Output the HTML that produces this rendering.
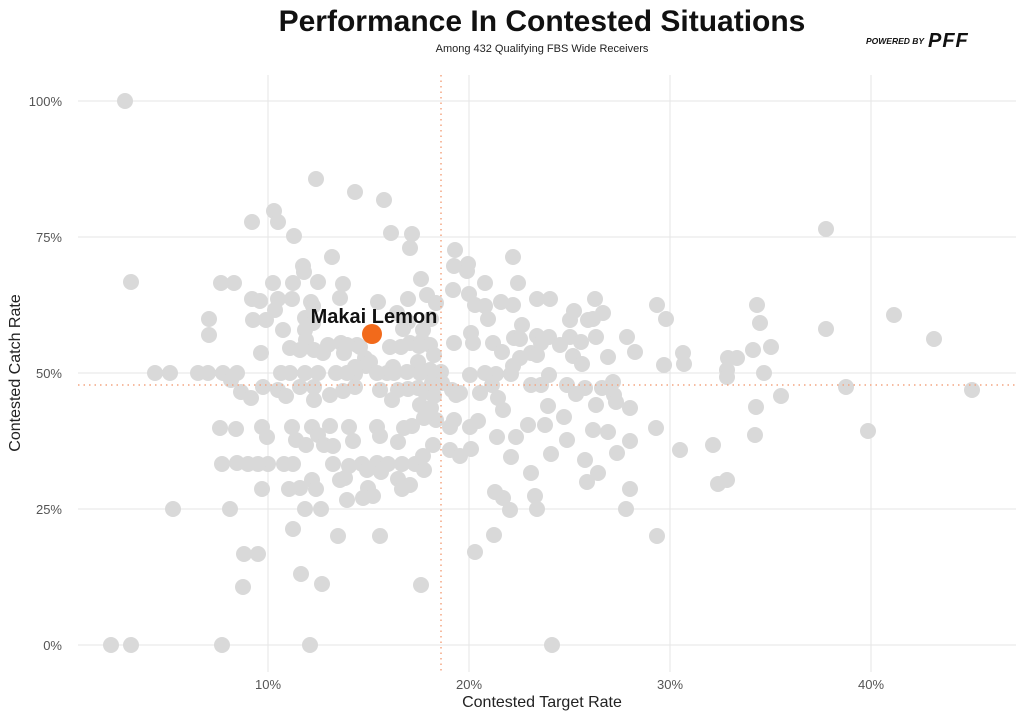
<!DOCTYPE html>
<html><head><meta charset="utf-8"><style>
body{margin:0;background:#fff;width:1024px;height:717px;overflow:hidden;font-family:"Liberation Sans",sans-serif}
</style></head><body>
<svg width="1024" height="717" xmlns="http://www.w3.org/2000/svg" font-family="Liberation Sans, sans-serif">
<rect width="1024" height="717" fill="#fff"/>
<text x="542" y="31" text-anchor="middle" font-size="30" font-weight="bold" fill="#111">Performance In Contested Situations</text>
<text x="542" y="52" text-anchor="middle" font-size="11" fill="#222">Among 432 Qualifying FBS Wide Receivers</text>
<text x="866" y="44" font-size="8.5" font-weight="bold" font-style="italic" fill="#111">POWERED BY</text>
<text x="928" y="47" font-size="20" font-weight="900" font-style="italic" fill="#111" letter-spacing="1">PFF</text>
<g stroke="#e6e6e6" stroke-width="1">
<line x1="268" y1="75" x2="268" y2="672"/><line x1="469" y1="75" x2="469" y2="672"/><line x1="670" y1="75" x2="670" y2="672"/><line x1="871" y1="75" x2="871" y2="672"/>
<line x1="78" y1="101" x2="1016" y2="101"/><line x1="78" y1="237" x2="1016" y2="237"/><line x1="78" y1="373" x2="1016" y2="373"/><line x1="78" y1="509" x2="1016" y2="509"/><line x1="78" y1="645" x2="1016" y2="645"/>
</g>
<g font-size="13" fill="#555" text-anchor="end">
<text x="62" y="106">100%</text><text x="62" y="242">75%</text><text x="62" y="378">50%</text><text x="62" y="514">25%</text><text x="62" y="650">0%</text>
</g>
<g font-size="13" fill="#555" text-anchor="middle">
<text x="268" y="689">10%</text><text x="469" y="689">20%</text><text x="670" y="689">30%</text><text x="871" y="689">40%</text>
</g>
<text x="542" y="707" text-anchor="middle" font-size="16" fill="#222">Contested Target Rate</text>
<text transform="translate(20,373) rotate(-90)" text-anchor="middle" font-size="16" fill="#222">Contested Catch Rate</text>
<g fill="#d9d9d9">
<circle cx="125" cy="101" r="8"/><circle cx="131" cy="282" r="8"/><circle cx="111" cy="645" r="8"/><circle cx="131" cy="645" r="8"/><circle cx="222" cy="645" r="8"/><circle cx="310" cy="645" r="8"/><circle cx="552" cy="645" r="8"/><circle cx="173" cy="509" r="8"/><circle cx="155" cy="373" r="8"/><circle cx="170" cy="373" r="8"/><circle cx="198" cy="373" r="8"/><circle cx="209" cy="319" r="8"/><circle cx="209" cy="335" r="8"/><circle cx="220" cy="428" r="8"/><circle cx="222" cy="464" r="8"/><circle cx="237" cy="463" r="8"/><circle cx="244" cy="554" r="8"/><circle cx="243" cy="587" r="8"/><circle cx="230" cy="509" r="8"/><circle cx="252" cy="222" r="8"/><circle cx="274" cy="211" r="8"/><circle cx="278" cy="222" r="8"/><circle cx="261" cy="353" r="8"/><circle cx="248" cy="464" r="8"/><circle cx="268" cy="464" r="8"/><circle cx="262" cy="489" r="8"/><circle cx="267" cy="437" r="8"/><circle cx="316" cy="179" r="8"/><circle cx="355" cy="192" r="8"/><circle cx="384" cy="200" r="8"/><circle cx="332" cy="257" r="8"/><circle cx="412" cy="234" r="8"/>
<circle cx="294" cy="236" r="8"/><circle cx="391" cy="233" r="8"/><circle cx="410" cy="248" r="8"/><circle cx="303" cy="266" r="8"/><circle cx="304" cy="272" r="8"/><circle cx="318" cy="282" r="8"/><circle cx="234" cy="283" r="8"/><circle cx="221" cy="283" r="8"/><circle cx="273" cy="283" r="8"/><circle cx="293" cy="283" r="8"/><circle cx="343" cy="284" r="8"/><circle cx="340" cy="298" r="8"/><circle cx="252" cy="299" r="8"/><circle cx="260" cy="301" r="8"/><circle cx="278" cy="299" r="8"/><circle cx="292" cy="299" r="8"/><circle cx="311" cy="302" r="8"/><circle cx="275" cy="310" r="8"/><circle cx="313" cy="306" r="8"/><circle cx="253" cy="320" r="8"/><circle cx="266" cy="320" r="8"/><circle cx="283" cy="330" r="8"/><circle cx="305" cy="318" r="8"/><circle cx="313" cy="323" r="8"/><circle cx="305" cy="330" r="8"/><circle cx="306" cy="340" r="8"/><circle cx="290" cy="348" r="8"/><circle cx="300" cy="350" r="8"/><circle cx="314" cy="350" r="8"/><circle cx="328" cy="345" r="8"/><circle cx="341" cy="343" r="8"/><circle cx="347" cy="345" r="8"/><circle cx="323" cy="353" r="8"/><circle cx="344" cy="353" r="8"/><circle cx="357" cy="345" r="8"/><circle cx="408" cy="299" r="8"/><circle cx="421" cy="279" r="8"/><circle cx="427" cy="295" r="8"/><circle cx="436" cy="303" r="8"/><circle cx="378" cy="302" r="8"/><circle cx="397" cy="313" r="8"/><circle cx="408" cy="322" r="8"/><circle cx="403" cy="329" r="8"/><circle cx="423" cy="330" r="8"/><circle cx="431" cy="319" r="8"/><circle cx="422" cy="341" r="8"/><circle cx="390" cy="347" r="8"/><circle cx="401" cy="347" r="8"/><circle cx="410" cy="343" r="8"/><circle cx="419" cy="346" r="8"/><circle cx="430" cy="345" r="8"/><circle cx="434" cy="355" r="8"/><circle cx="360" cy="347" r="8"/><circle cx="365" cy="358" r="8"/><circle cx="366" cy="366" r="8"/><circle cx="355" cy="367" r="8"/><circle cx="355" cy="374" r="8"/><circle cx="370" cy="362" r="8"/><circle cx="387" cy="373" r="8"/><circle cx="393" cy="367" r="8"/><circle cx="407" cy="372" r="8"/><circle cx="418" cy="362" r="8"/><circle cx="430" cy="370" r="8"/><circle cx="441" cy="372" r="8"/><circle cx="208" cy="373" r="8"/><circle cx="223" cy="373" r="8"/><circle cx="237" cy="373" r="8"/><circle cx="281" cy="373" r="8"/><circle cx="290" cy="373" r="8"/><circle cx="305" cy="373" r="8"/><circle cx="318" cy="373" r="8"/><circle cx="336" cy="373" r="8"/><circle cx="347" cy="373" r="8"/><circle cx="377" cy="373" r="8"/><circle cx="394" cy="373" r="8"/><circle cx="420" cy="373" r="8"/><circle cx="432" cy="383" r="8"/><circle cx="442" cy="383" r="8"/><circle cx="452" cy="390" r="8"/><circle cx="231" cy="380" r="8"/><circle cx="241" cy="392" r="8"/><circle cx="251" cy="398" r="8"/><circle cx="263" cy="387" r="8"/><circle cx="278" cy="390" r="8"/><circle cx="286" cy="396" r="8"/><circle cx="300" cy="387" r="8"/><circle cx="314" cy="387" r="8"/><circle cx="314" cy="400" r="8"/><circle cx="330" cy="395" r="8"/><circle cx="343" cy="391" r="8"/><circle cx="355" cy="387" r="8"/><circle cx="380" cy="390" r="8"/><circle cx="392" cy="400" r="8"/><circle cx="398" cy="390" r="8"/><circle cx="408" cy="389" r="8"/><circle cx="418" cy="388" r="8"/><circle cx="425" cy="392" r="8"/><circle cx="434" cy="396" r="8"/><circle cx="420" cy="405" r="8"/><circle cx="431" cy="408" r="8"/><circle cx="436" cy="420" r="8"/><circle cx="262" cy="427" r="8"/><circle cx="292" cy="427" r="8"/><circle cx="312" cy="427" r="8"/><circle cx="330" cy="426" r="8"/><circle cx="349" cy="427" r="8"/><circle cx="377" cy="427" r="8"/><circle cx="412" cy="426" r="8"/><circle cx="424" cy="418" r="8"/><circle cx="450" cy="427" r="8"/><circle cx="236" cy="429" r="8"/><circle cx="296" cy="440" r="8"/><circle cx="306" cy="445" r="8"/><circle cx="318" cy="435" r="8"/><circle cx="324" cy="445" r="8"/><circle cx="333" cy="446" r="8"/><circle cx="353" cy="441" r="8"/><circle cx="380" cy="436" r="8"/><circle cx="398" cy="442" r="8"/><circle cx="404" cy="428" r="8"/><circle cx="423" cy="456" r="8"/><circle cx="433" cy="445" r="8"/><circle cx="258" cy="464" r="8"/><circle cx="284" cy="464" r="8"/><circle cx="293" cy="464" r="8"/><circle cx="333" cy="464" r="8"/><circle cx="349" cy="466" r="8"/><circle cx="362" cy="464" r="8"/><circle cx="377" cy="463" r="8"/><circle cx="388" cy="464" r="8"/><circle cx="402" cy="464" r="8"/><circle cx="415" cy="464" r="8"/><circle cx="424" cy="470" r="8"/><circle cx="345" cy="478" r="8"/><circle cx="367" cy="470" r="8"/><circle cx="398" cy="479" r="8"/><circle cx="402" cy="489" r="8"/><circle cx="410" cy="485" r="8"/><circle cx="381" cy="472" r="8"/><circle cx="312" cy="480" r="8"/><circle cx="300" cy="488" r="8"/><circle cx="289" cy="489" r="8"/><circle cx="316" cy="489" r="8"/><circle cx="340" cy="480" r="8"/><circle cx="368" cy="488" r="8"/><circle cx="373" cy="496" r="8"/><circle cx="305" cy="509" r="8"/><circle cx="321" cy="509" r="8"/><circle cx="347" cy="500" r="8"/><circle cx="363" cy="498" r="8"/><circle cx="338" cy="536" r="8"/><circle cx="380" cy="536" r="8"/><circle cx="322" cy="584" r="8"/><circle cx="301" cy="574" r="8"/><circle cx="293" cy="529" r="8"/><circle cx="258" cy="554" r="8"/><circle cx="421" cy="585" r="8"/><circle cx="475" cy="552" r="8"/>
<circle cx="455" cy="250" r="8"/><circle cx="454" cy="266" r="8"/><circle cx="468" cy="264" r="8"/><circle cx="467" cy="271" r="8"/><circle cx="513" cy="257" r="8"/><circle cx="485" cy="283" r="8"/><circle cx="518" cy="283" r="8"/><circle cx="453" cy="290" r="8"/><circle cx="469" cy="294" r="8"/><circle cx="475" cy="305" r="8"/><circle cx="501" cy="302" r="8"/><circle cx="485" cy="306" r="8"/><circle cx="513" cy="305" r="8"/><circle cx="537" cy="299" r="8"/><circle cx="550" cy="299" r="8"/><circle cx="595" cy="299" r="8"/><circle cx="574" cy="311" r="8"/><circle cx="593" cy="319" r="8"/><circle cx="570" cy="320" r="8"/><circle cx="588" cy="320" r="8"/><circle cx="603" cy="313" r="8"/><circle cx="657" cy="305" r="8"/><circle cx="666" cy="319" r="8"/><circle cx="488" cy="319" r="8"/><circle cx="522" cy="325" r="8"/><circle cx="537" cy="336" r="8"/><circle cx="549" cy="337" r="8"/><circle cx="560" cy="345" r="8"/><circle cx="471" cy="333" r="8"/><circle cx="473" cy="343" r="8"/><circle cx="454" cy="343" r="8"/><circle cx="493" cy="343" r="8"/><circle cx="514" cy="338" r="8"/><circle cx="502" cy="352" r="8"/><circle cx="520" cy="339" r="8"/><circle cx="531" cy="353" r="8"/><circle cx="541" cy="343" r="8"/><circle cx="570" cy="337" r="8"/><circle cx="581" cy="342" r="8"/><circle cx="596" cy="337" r="8"/><circle cx="627" cy="337" r="8"/><circle cx="608" cy="357" r="8"/><circle cx="635" cy="352" r="8"/><circle cx="683" cy="353" r="8"/><circle cx="520" cy="358" r="8"/><circle cx="537" cy="355" r="8"/><circle cx="573" cy="356" r="8"/><circle cx="582" cy="364" r="8"/><circle cx="664" cy="365" r="8"/><circle cx="684" cy="364" r="8"/><circle cx="496" cy="374" r="8"/><circle cx="511" cy="374" r="8"/><circle cx="549" cy="375" r="8"/><circle cx="513" cy="366" r="8"/><circle cx="485" cy="373" r="8"/><circle cx="470" cy="375" r="8"/><circle cx="456" cy="395" r="8"/><circle cx="492" cy="385" r="8"/><circle cx="531" cy="385" r="8"/><circle cx="541" cy="385" r="8"/><circle cx="567" cy="385" r="8"/><circle cx="576" cy="394" r="8"/><circle cx="602" cy="388" r="8"/><circle cx="613" cy="382" r="8"/><circle cx="614" cy="395" r="8"/><circle cx="616" cy="402" r="8"/><circle cx="585" cy="388" r="8"/><circle cx="460" cy="393" r="8"/><circle cx="480" cy="393" r="8"/><circle cx="498" cy="398" r="8"/><circle cx="503" cy="410" r="8"/><circle cx="548" cy="406" r="8"/><circle cx="564" cy="417" r="8"/><circle cx="596" cy="405" r="8"/><circle cx="630" cy="408" r="8"/><circle cx="454" cy="420" r="8"/><circle cx="470" cy="427" r="8"/><circle cx="478" cy="421" r="8"/><circle cx="497" cy="437" r="8"/><circle cx="516" cy="437" r="8"/><circle cx="528" cy="425" r="8"/><circle cx="545" cy="425" r="8"/><circle cx="567" cy="440" r="8"/><circle cx="593" cy="430" r="8"/><circle cx="608" cy="432" r="8"/><circle cx="617" cy="453" r="8"/><circle cx="630" cy="441" r="8"/><circle cx="656" cy="428" r="8"/><circle cx="680" cy="450" r="8"/><circle cx="450" cy="450" r="8"/><circle cx="460" cy="456" r="8"/><circle cx="471" cy="449" r="8"/><circle cx="511" cy="457" r="8"/><circle cx="551" cy="454" r="8"/><circle cx="587" cy="482" r="8"/><circle cx="598" cy="473" r="8"/><circle cx="630" cy="489" r="8"/><circle cx="657" cy="536" r="8"/><circle cx="495" cy="492" r="8"/><circle cx="503" cy="498" r="8"/><circle cx="535" cy="496" r="8"/><circle cx="531" cy="473" r="8"/><circle cx="585" cy="460" r="8"/><circle cx="494" cy="535" r="8"/><circle cx="510" cy="510" r="8"/><circle cx="537" cy="509" r="8"/><circle cx="626" cy="509" r="8"/>
<circle cx="713" cy="445" r="8"/><circle cx="718" cy="484" r="8"/><circle cx="727" cy="480" r="8"/><circle cx="727" cy="370" r="8"/><circle cx="728" cy="358" r="8"/><circle cx="737" cy="358" r="8"/><circle cx="727" cy="377" r="8"/><circle cx="753" cy="350" r="8"/><circle cx="757" cy="305" r="8"/><circle cx="760" cy="323" r="8"/><circle cx="764" cy="373" r="8"/><circle cx="771" cy="347" r="8"/><circle cx="781" cy="396" r="8"/><circle cx="756" cy="407" r="8"/><circle cx="755" cy="435" r="8"/><circle cx="826" cy="229" r="8"/><circle cx="826" cy="329" r="8"/><circle cx="846" cy="387" r="8"/><circle cx="868" cy="431" r="8"/><circle cx="894" cy="315" r="8"/><circle cx="934" cy="339" r="8"/><circle cx="972" cy="390" r="8"/>
</g>
<line x1="441" y1="75" x2="441" y2="672" stroke="#f4a582" stroke-width="1.5" stroke-dasharray="1.5,4"/>
<line x1="78" y1="385" x2="1016" y2="385" stroke="#f4a582" stroke-width="1.5" stroke-dasharray="1.5,4"/>
<circle cx="372" cy="334" r="10" fill="#f26a1b"/>
<text x="374" y="323" text-anchor="middle" font-size="20" font-weight="bold" fill="#111">Makai Lemon</text>
</svg>
</body></html>
